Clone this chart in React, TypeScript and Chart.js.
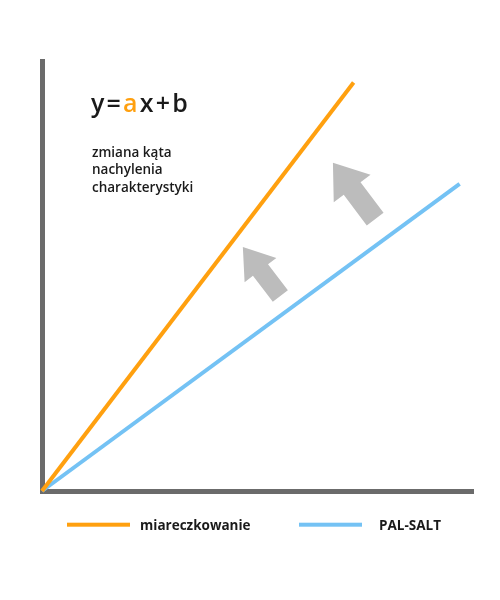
import React, { useEffect, useRef } from "react";
import { Chart, registerables } from "chart.js";

Chart.register(...registerables);

// ---- data ----
const seriesLabels = ["miareczkowanie", "PAL-SALT"];
const seriesColors = ["#FFA00F", "#74C2F4"];
const orangeX = [0, 7.23];
const orangeY = [0, 9.51];
const blueX = [0, 9.69];
const blueY = [0, 7.15];
// arrows: tail -> tip, in data units
const arrowTailX = [5.53, 7.73];
const arrowTailY = [4.54, 6.33];
const arrowTipX = [4.66, 6.75];
const arrowTipY = [5.68, 7.64];
const formulaParts = ["y=", "a", "x+b"];
const noteLines = ["zmiana kąta", "nachylenia", "charakterystyki"];

const AXIS_COLOR = "#6b6b6b";
const ARROW_COLOR = "#bcbcbc";
const TEXT_COLOR = "#1a1a1a";

const arrowsPlugin = {
  id: "arrows",
  afterDatasetsDraw(chart: any) {
    const { ctx, scales } = chart;
    const sx = scales.x;
    const sy = scales.y;
    const shaft = [19, 21];
    const head = [40, 46];
    const headLen = [29, 32];
    ctx.save();
    ctx.fillStyle = ARROW_COLOR;
    for (let i = 0; i < arrowTipX.length; i++) {
      const tx = sx.getPixelForValue(arrowTailX[i]);
      const ty = sy.getPixelForValue(arrowTailY[i]);
      const px = sx.getPixelForValue(arrowTipX[i]);
      const py = sy.getPixelForValue(arrowTipY[i]);
      const dx = px - tx;
      const dy = py - ty;
      const len = Math.hypot(dx, dy);
      const ux = dx / len;
      const uy = dy / len;
      const nx = -uy;
      const ny = ux;
      const sw = shaft[i] / 2;
      const hw = head[i] / 2;
      const bx = px - ux * headLen[i];
      const by = py - uy * headLen[i];
      ctx.beginPath();
      ctx.moveTo(tx + nx * sw, ty + ny * sw);
      ctx.lineTo(bx + nx * sw, by + ny * sw);
      ctx.lineTo(bx + nx * hw, by + ny * hw);
      ctx.lineTo(px, py);
      ctx.lineTo(bx - nx * hw, by - ny * hw);
      ctx.lineTo(bx - nx * sw, by - ny * sw);
      ctx.lineTo(tx - nx * sw, ty - ny * sw);
      ctx.closePath();
      ctx.fill();
    }
    ctx.restore();
  },
};

const textPlugin = {
  id: "texts",
  afterDraw(chart: any) {
    const { ctx } = chart;
    ctx.save();
    // formula
    ctx.font = '600 25px "Open Sans"';
    ctx.textBaseline = "alphabetic";
    ctx.textAlign = "left";
    let x = 91;
    const spacing = 2.2;
    formulaParts.forEach((part, pi) => {
      ctx.fillStyle = pi === 1 ? seriesColors[0] : TEXT_COLOR;
      for (const ch of part) {
        ctx.fillText(ch, x, 111.5);
        x += ctx.measureText(ch).width + spacing;
      }
    });
    // note
    ctx.font = '600 13.5px "Open Sans"';
    ctx.fillStyle = TEXT_COLOR;
    noteLines.forEach((line, i) => {
      ctx.fillText(line, 92, 156.5 + i * 17.5);
    });
    // legend
    const lineStarts = [67, 299];
    const textStarts = [140, 379];
    ctx.font = 'bold 13.5px "Open Sans"';
    chart.data.datasets.forEach((ds: any, i: number) => {
      ctx.fillStyle = ds.borderColor;
      ctx.fillRect(lineStarts[i], 522.7, 63, 4);
      ctx.fillStyle = TEXT_COLOR;
      ctx.fillText(ds.label, textStarts[i], 529.5);
    });
    ctx.restore();
  },
};

export default function App() {
  const ref = useRef<HTMLCanvasElement | null>(null);
  useEffect(() => {
    if (!ref.current) return;
    const toPts = (xs: number[], ys: number[]) => xs.map((v, i) => ({ x: v, y: ys[i] }));
    const axis = {
      type: "linear" as const,
      min: 0,
      max: 10,
      grid: { display: false, drawTicks: false, tickLength: 0 },
      ticks: { display: false },
      border: { display: true, width: 5, color: AXIS_COLOR },
    };
    const chart = new Chart(ref.current, {
      type: "line",
      data: {
        datasets: [
          {
            label: seriesLabels[0],
            data: toPts(orangeX, orangeY),
            borderColor: seriesColors[0],
            backgroundColor: seriesColors[0],
            borderWidth: 4,
            pointRadius: 0,
            tension: 0,
            clip: false as any,
          },
          {
            label: seriesLabels[1],
            data: toPts(blueX, blueY),
            borderColor: seriesColors[1],
            backgroundColor: seriesColors[1],
            borderWidth: 4,
            pointRadius: 0,
            tension: 0,
            clip: false as any,
          },
        ],
      },
      options: {
        animation: false,
        responsive: true,
        maintainAspectRatio: false,
        layout: { padding: { left: 42, top: 61.5, right: 27, bottom: 109 } },
        plugins: { legend: { display: false }, tooltip: { enabled: false } },
        scales: { x: axis, y: axis },
      },
      plugins: [arrowsPlugin, textPlugin],
    });
    return () => chart.destroy();
  }, []);
  return (
    <div style={{ position: "fixed", left: 0, top: 0, width: 500, height: 600, background: "#fff" }}>
      <canvas ref={ref} />
    </div>
  );
}
